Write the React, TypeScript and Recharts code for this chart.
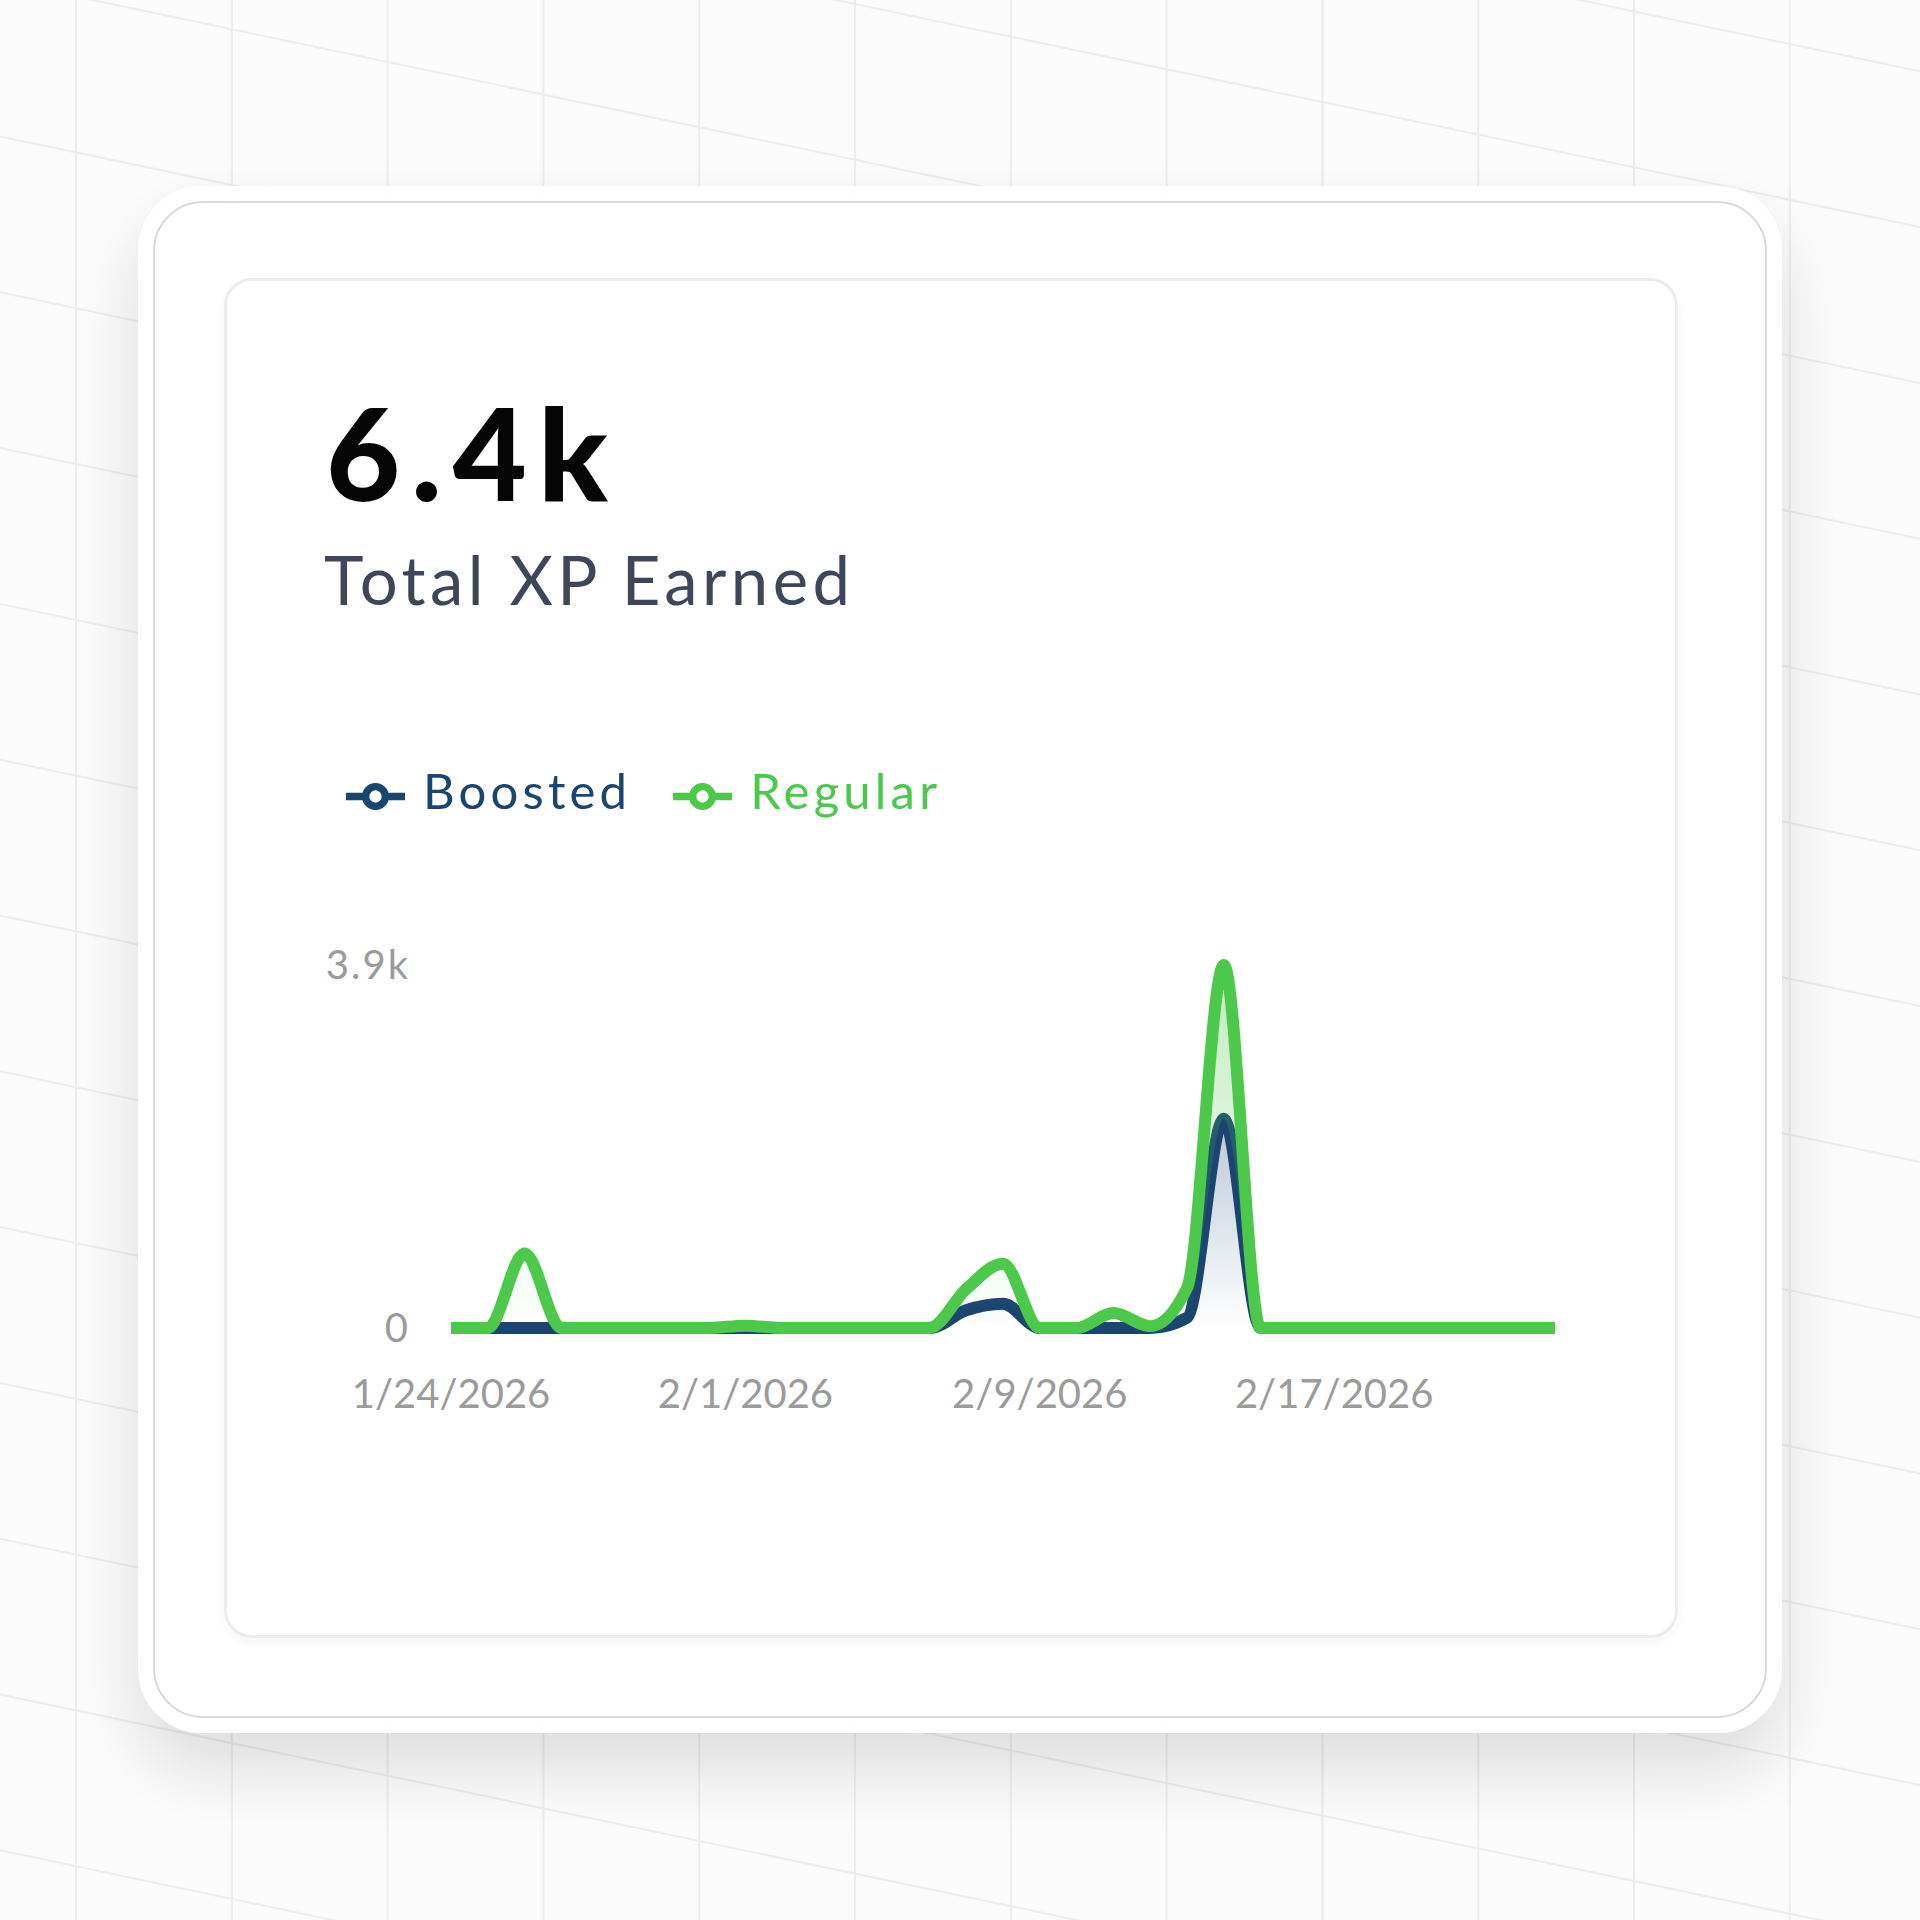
import React from 'react';
import { AreaChart, Area, XAxis, YAxis, Legend } from 'recharts';

const NAVY = '#1B4571';
const GREEN = '#4CC84B';
const FONT = 'Lato, "DejaVu Sans", sans-serif';

// daily XP, 1/24/2026 .. 2/23/2026
const dates = [
  '1/24/2026', '1/25/2026', '1/26/2026', '1/27/2026', '1/28/2026', '1/29/2026', '1/30/2026', '1/31/2026',
  '2/1/2026', '2/2/2026', '2/3/2026', '2/4/2026', '2/5/2026', '2/6/2026', '2/7/2026', '2/8/2026',
  '2/9/2026', '2/10/2026', '2/11/2026', '2/12/2026', '2/13/2026', '2/14/2026', '2/15/2026', '2/16/2026',
  '2/17/2026', '2/18/2026', '2/19/2026', '2/20/2026', '2/21/2026', '2/22/2026', '2/23/2026',
];
const boosted = [0, 0, 0, 0, 0, 0, 0, 0, 0, 0, 0, 0, 0, 0, 190, 260, 0, 0, 0, 0, 110, 2250, 0, 0, 0, 0, 0, 0, 0, 0, 0];
const regular = [0, 0, 800, 0, 0, 0, 0, 0, 25, 0, 0, 0, 0, 0, 230, 430, 0, 0, 160, 20, 320, 1650, 0, 0, 0, 0, 0, 0, 0, 0, 0];
const yTicks = [0, 3900];

const data = dates.map((date, i) => ({ date, Boosted: boosted[i], Regular: regular[i] }));

const fmtK = (v: number) => (v === 0 ? '0' : `${(v / 1000).toFixed(1)}k`);

const GRID = 155.8;
const SLOPE = 0.2095;

const Background = () => {
  const verticals = Array.from({ length: 12 }, (_, k) => 76 + GRID * k);
  const slanted = Array.from({ length: 16 }, (_, k) => -19.3 + GRID * (k - 2));
  return (
    <svg width={1920} height={1920} style={{ position: 'absolute', left: 0, top: 0 }}>
      {verticals.map((x) => (
        <line key={`v${x}`} x1={x} y1={0} x2={x} y2={1920} stroke="#ededed" strokeWidth={2} />
      ))}
      {slanted.map((b) => (
        <line key={`s${b}`} x1={0} y1={b} x2={1920} y2={b + SLOPE * 1920} stroke="#ededed" strokeWidth={2} />
      ))}
    </svg>
  );
};

export default function App() {
  return (
    <div
      style={{
        position: 'absolute', left: 0, top: 0, width: 1920, height: 1920,
        background: '#fbfbfb', overflow: 'hidden', fontFamily: FONT,
      }}
    >
      <Background />
      <div
        style={{
          position: 'absolute', left: 138, top: 186, width: 1644, height: 1547, borderRadius: 64,
          background: 'rgba(255,255,255,0.92)', boxShadow: '0 36px 70px rgba(0,0,0,0.12)',
        }}
      />
      <div
        style={{
          position: 'absolute', left: 153, top: 201, width: 1614, height: 1517, borderRadius: 50,
          background: '#fff', border: '2px solid #d9d9d9', boxSizing: 'border-box',
        }}
      />
      <div
        style={{
          position: 'absolute', left: 224, top: 278, width: 1454, height: 1360, borderRadius: 28,
          background: '#fff', border: '3px solid #ececec', boxSizing: 'border-box',
          boxShadow: '0 5px 8px rgba(0,0,0,0.04)',
        }}
      />
      <div
        style={{
          position: 'absolute', left: 326, top: 388, fontSize: 128, lineHeight: 1,
          fontWeight: 900, color: '#050505', whiteSpace: 'nowrap', letterSpacing: 11,
        }}
      >
        6.4k
      </div>
      <div
        style={{
          position: 'absolute', left: 324, top: 546, fontSize: 67, lineHeight: 1,
          fontWeight: 400, color: '#3d4758', whiteSpace: 'nowrap', letterSpacing: 4.4,
        }}
      >
        Total XP Earned
      </div>

      <div style={{ position: 'absolute', left: 300, top: 740 }}>
        <AreaChart width={1300} height={700} data={data} margin={{ top: 160, right: 45, left: 0, bottom: 0 }}>
          <defs>
            <linearGradient id="boostedFill" x1="0" y1="0" x2="0" y2="1">
              <stop offset="0%" stopColor={NAVY} stopOpacity={0.3} />
              <stop offset="100%" stopColor={NAVY} stopOpacity={0} />
            </linearGradient>
            <linearGradient id="regularFill" x1="0" y1="0" x2="0" y2="1">
              <stop offset="0%" stopColor={GREEN} stopOpacity={0.35} />
              <stop offset="100%" stopColor={GREEN} stopOpacity={0} />
            </linearGradient>
          </defs>
          <XAxis
            dataKey="date"
            interval={7}
            axisLine={false}
            tickLine={false}
            tickSize={0}
            tickMargin={52}
            height={112}
            tick={{ fill: '#9b9b9b', fontSize: 40, fontFamily: FONT }}
          />
          <YAxis
            domain={[0, 3900]}
            ticks={yTicks}
            tickFormatter={fmtK}
            axisLine={false}
            tickLine={false}
            tickSize={0}
            tickMargin={41}
            width={151}
            tick={{ fill: '#9b9b9b', fontSize: 40, fontFamily: FONT, letterSpacing: 2 }}
          />
          <Legend
            verticalAlign="top"
            align="left"
            iconType="line"
            iconSize={59}
            wrapperStyle={{ top: 21, left: 46, fontSize: 49, fontFamily: FONT, letterSpacing: 4.2 }}
            formatter={(value: string) => (
              <span style={{ marginLeft: 14, marginRight: 32 }}>{value}</span>
            )}
          />
          <Area
            type="monotone"
            dataKey="Boosted"
            stackId="xp"
            stroke={NAVY}
            strokeWidth={12}
            fill="url(#boostedFill)"
            fillOpacity={1}
            dot={false}
            activeDot={false}
            isAnimationActive={false}
          />
          <Area
            type="monotone"
            dataKey="Regular"
            stackId="xp"
            stroke={GREEN}
            strokeWidth={12}
            fill="url(#regularFill)"
            fillOpacity={1}
            dot={false}
            activeDot={false}
            isAnimationActive={false}
          />
        </AreaChart>
      </div>
    </div>
  );
}
